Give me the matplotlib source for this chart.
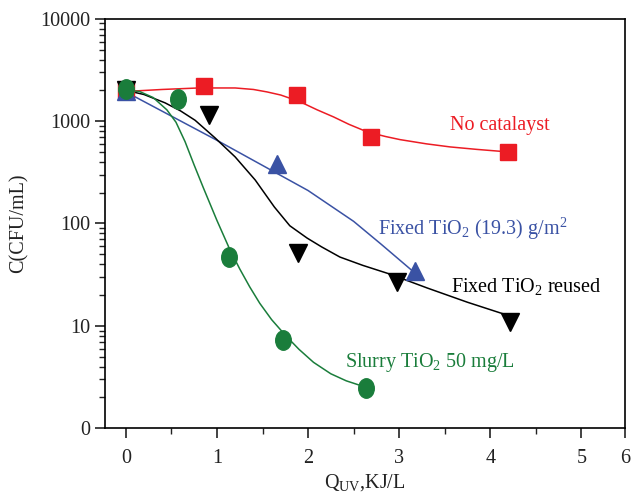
import matplotlib
matplotlib.use("Agg")
import matplotlib.pyplot as plt
import numpy as np
from matplotlib.path import Path
from matplotlib.ticker import FixedLocator, FuncFormatter, LogLocator, MultipleLocator

plt.rcParams['font.family'] = ['Liberation Serif', 'DejaVu Serif']
plt.rcParams['mathtext.default'] = 'regular'

# measured points
x_none = [0, 0.86, 1.88, 2.69, 4.2]
c_none = [2000, 2220, 1820, 700, 500]
x_reuse = [0, 0.91, 1.89, 2.98, 4.22]
c_reuse = [2000, 1150, 52, 27, 11]
x_fixed = [0, 1.66, 3.17]
c_fixed = [1950, 380, 34]
x_slurry = [0, 0.57, 1.13, 1.73, 2.64]
c_slurry = [2050, 1650, 47, 7.2, 2.45]

# fitted curves
fx_none = [0, 0.4, 0.8, 1.2, 1.4, 1.55, 1.7, 1.91, 2.1, 2.28, 2.45, 2.65, 2.85, 3.01, 3.3, 3.56, 3.85, 4.2]
fc_none = [1950, 2040, 2110, 2110, 2040, 1930, 1800, 1550, 1290, 1100, 930, 785, 708, 660, 600, 560, 530, 500]
fx_reuse = [0, 0.2, 0.43, 0.6, 0.76, 0.98, 1.2, 1.42, 1.63, 1.8, 1.99, 2.15, 2.35, 2.6, 2.9, 3.31, 3.75, 4.2]
fc_reuse = [2000, 1820, 1510, 1260, 1020, 685, 447, 266, 145, 95, 72, 59, 47, 39, 32, 23.4, 17, 12.6]
fx_fixed = [0, 0.5, 1.0, 1.25, 1.6, 2.0, 2.5, 2.8, 3.17]
fc_fixed = [1930, 1120, 650, 490, 330, 210, 105, 63, 33]
fx_slurry = [0, 0.15, 0.3, 0.45, 0.55, 0.65, 0.75, 0.85, 1.0, 1.14, 1.25, 1.36, 1.47, 1.6, 1.75, 1.9, 2.06, 2.25, 2.42, 2.6]
fc_slurry = [2000, 1950, 1700, 1290, 977, 630, 372, 224, 107, 56, 36, 24, 16.6, 11.5, 8.1, 5.9, 4.4, 3.4, 2.9, 2.57]

x_ticks = [0, 1, 2, 3, 4, 5]
x_labels = ['0', '1', '2', '3', '4', '5', '6']

red = '#ec1c24'
blue = '#3a52a4'
green = '#1a7d3b'
txt = '#222222'
fs = 14.5

ellipse = Path(Path.unit_circle().vertices * [0.8, 1.0], Path.unit_circle().codes)

fig = plt.figure(figsize=(6.32, 4.95), dpi=100)
ax = fig.add_axes([0.166, 0.135, 0.823, 0.827])

ax.plot(fx_none, fc_none, color=red, lw=1.1)
ax.plot(fx_fixed, fc_fixed, color=blue, lw=1.1)
ax.plot(fx_reuse, fc_reuse, color='black', lw=1.1)
ax.plot(fx_slurry, fc_slurry, color=green, lw=1.1)

ax.plot(x_none, c_none, 's', color=red, ms=11, ls='none')
ax.plot(x_reuse, c_reuse, 'v', color='black', ms=13, ls='none')
ax.plot(x_fixed, c_fixed, '^', color=blue, ms=13, ls='none')
ax.plot(x_slurry, c_slurry, marker=ellipse, color=green, ms=14, ls='none')

ax.text(4.11, 900, 'No catalayst', color=red, fontsize=fs, ha='center', va='center')
ax.text(3.81, 89, 'Fixed TiO$_2$ (19.3) g/m$^2$', color=blue, fontsize=fs, ha='center', va='center')
ax.text(4.4, 24.5, 'Fixed TiO$_2$ reused', color='black', fontsize=fs, ha='center', va='center')
ax.text(3.34, 4.4, 'Slurry TiO$_2$ 50 mg/L', color=green, fontsize=fs, ha='center', va='center')

ax.set_yscale('log')
ax.set_ylim(1, 10000)
ax.set_xlim(-0.23, 5.48)
ax.yaxis.set_major_locator(FixedLocator([1, 10, 100, 1000, 10000]))
ax.yaxis.set_minor_locator(LogLocator(base=10, subs=np.arange(2, 10)))
ax.yaxis.set_major_formatter(FuncFormatter(lambda v, p: '0' if v <= 1 else '%d' % v))
# the original axis stops at 5.5 but its last label still reads 6
ax.set_xticks(x_ticks + [ax.get_xlim()[1]])
ax.set_xticklabels(x_labels)
ax.xaxis.set_minor_locator(MultipleLocator(0.5))

ax.tick_params(which='both', direction='out', labelsize=fs, colors=txt)
ax.tick_params(axis='x', which='major', pad=8)
ax.tick_params(which='major', length=7, width=1.2)
ax.tick_params(which='minor', length=4, width=1)
for s in ax.spines.values():
    s.set_linewidth(1.2)

ax.set_ylabel('C(CFU/mL)', fontsize=fs, color=txt, labelpad=8)
ax.set_xlabel('Q$_{UV}$,KJ/L', fontsize=fs, color=txt, labelpad=3)

fig.savefig('out.png', dpi=100)
